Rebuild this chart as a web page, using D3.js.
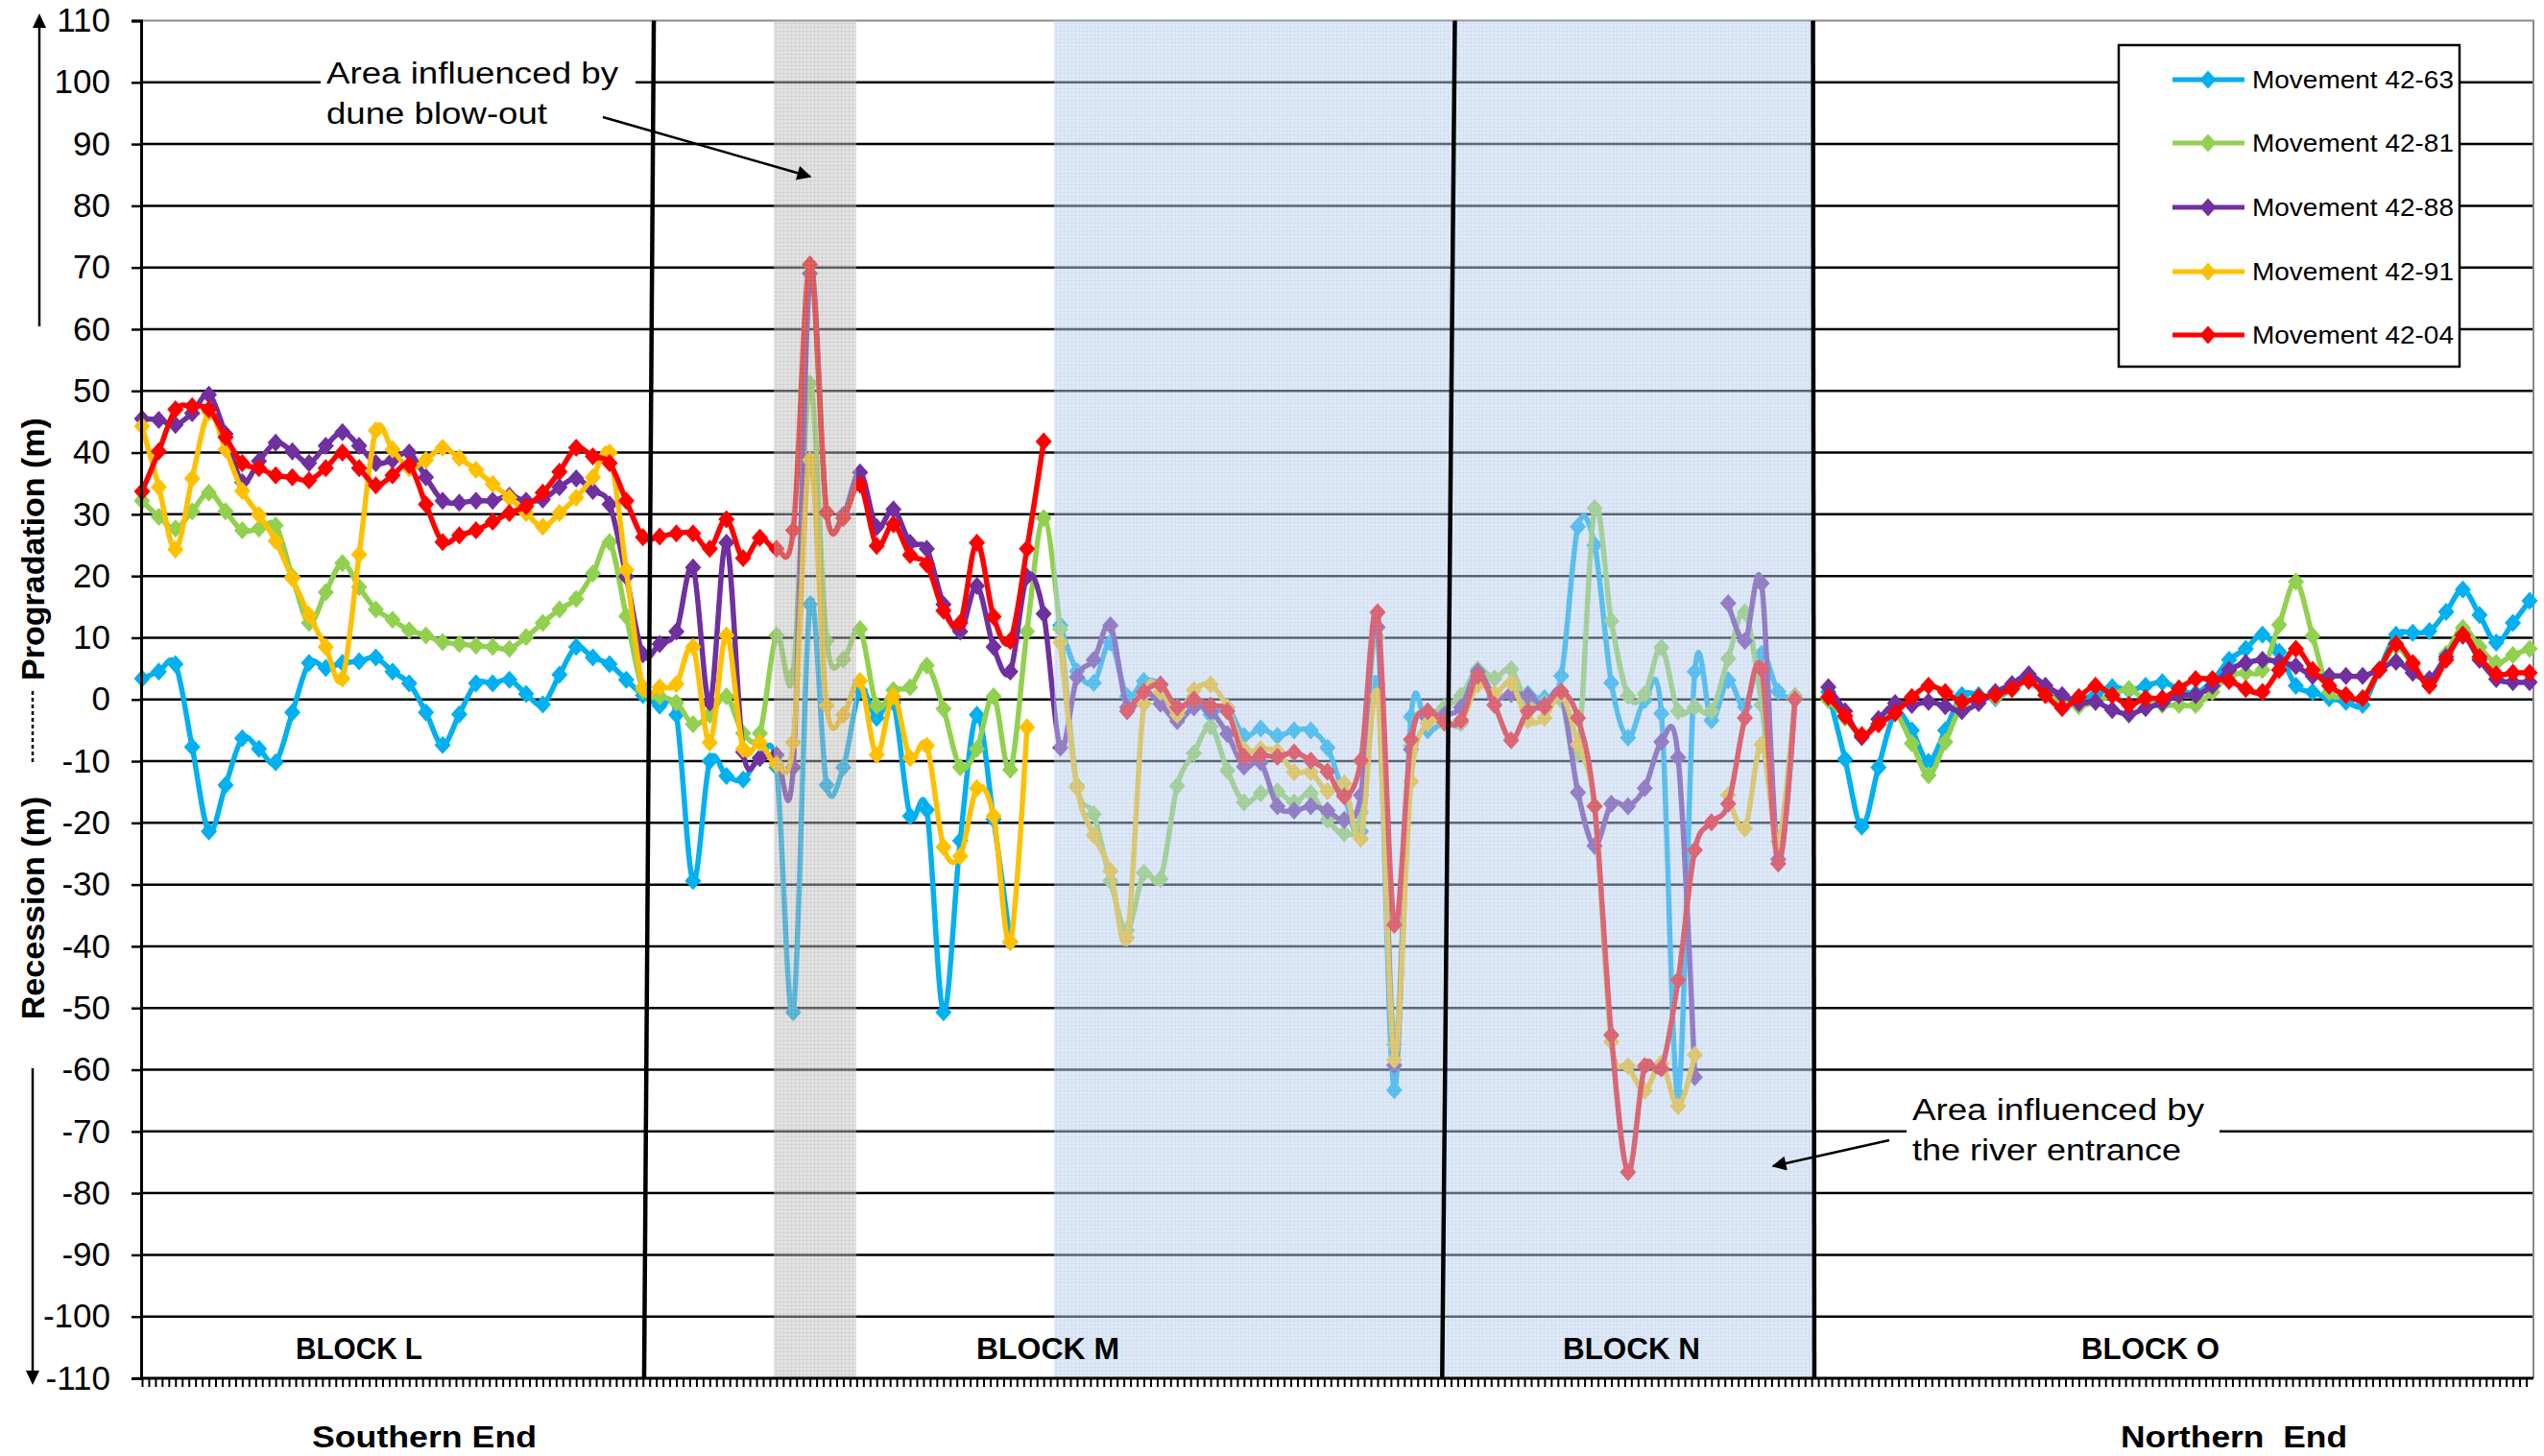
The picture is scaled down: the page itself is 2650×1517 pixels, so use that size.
<!DOCTYPE html>
<html>
<head>
<meta charset="utf-8">
<script src="https://cdn.jsdelivr.net/npm/d3@7"></script>
<style>
  body { margin: 0; background: #fff; }
  svg { display: block; }
  text { font-family: "Liberation Sans", Arial, sans-serif; fill: #000; }
</style>
</head>
<body>
<svg id="chart" width="2650" height="1517"></svg>
<script>
// Beach profile number along the coast, south (0) to north (143)
const profiles = d3.range(0, 144);

// Shoreline movement (m) per profile; null = no measurement
const mov4263 = [3.4,4.5,5.7,-7.7,-21.4,-13.9,-6.3,-8,-10.2,-2.1,5.9,5.1,5.9,6.2,6.8,4.5,2.6,-2.1,-7.4,-2.4,2.6,2.6,3.2,0.9,-0.8,4,8.5,6.8,5.7,3.2,
  0.7,-1,-2.5,-29.4,-10,-12.4,-13,-9.5,-11,-50.7,15.4,-13.9,-11,1.5,-3,-0.5,-18.9,-17.9,-50.7,-22.9,-2.5,-19.4,-39.3,null,null,
  12,4.6,2.7,9.2,0.5,3,2.4,-1.3,0,-2.5,-1.3,-5.9,-4.7,-5.9,-5,-5,-7.8,-15.5,-21.4,2.4,-63.3,-2.8,-5,-3.8,
  -3.8,4.1,0.6,0.9,0.9,0.2,3.8,28,25,2.7,-6.2,-0.1,-2.3,-64,4.5,-3.4,3.1,-1.2,7.4,1.3,0.2,null,
  1.2,-9.7,-20.6,-11,-2.2,-5,-10.1,-5,0.7,0.7,0.2,1.7,3.8,1.2,0.2,0.2,0.7,2,1.5,2.2,2.8,1.7,1,3,6.4,8.2,10.5,7.7,2.2,1.2,
  0.2,-0.4,-0.9,4.8,10.5,10.8,11.1,14.2,17.8,13.7,9.2,12.4,16];

const mov4281 = [32.2,29.6,27.7,30.5,33.5,30.5,27.4,27.7,28.2,19.9,12.4,17.4,22.1,18.2,14.6,12.9,11.2,10.4,9.3,9,8.7,8.5,8.2,10.1,12.4,14.6,16.3,20.4,25.5,13.5,
  1.5,0.5,-0.5,-4,-2.5,0.5,-5.5,-5.5,10.4,4,51.2,9.5,6.5,11.4,-1,1.5,2,5.5,-1.5,-11,-8,0.5,-11.4,11,29.4,
  11.4,-14,-18.6,-29.4,-37.4,-28.1,-29.1,-14,-8.7,-4.4,-11.5,-16.7,-15.2,-14.9,-16.7,-15.2,-19.5,-21.7,-18.3,10.1,-55.9,-7.5,-2.8,-1.3,
  0.6,4.9,3.4,4.9,-0.9,-0.5,-0.1,-8.7,31,12.7,0.6,0.9,8.4,-1.9,-1.2,-1.9,6.6,14.1,-0.9,-23,0.6,null,
  -0.1,-3,-5.8,-4,-2.2,-7.1,-12.3,-6.9,-0.9,0.2,0.4,1.7,3.3,1.2,-0.4,-1.1,-0.4,0.7,1.7,-0.1,-0.9,-0.9,-0.9,1.2,3.8,4.3,4.8,12.1,19.1,10.3,
  1.2,0.7,0.2,4.8,8.5,5.6,2.8,7.4,11.6,8.5,5.9,7.2,8.2];

const mov4288 = [45.5,45.3,44.5,46.4,49.4,43,35.2,38.6,41.6,40.2,38.3,41.1,43.3,41.1,38.3,38.8,40,36,32.2,31.9,32.2,32.2,33,32.2,32.4,34.4,35.8,33.8,31.6,19.9,
  7.3,9,11,21.4,-0.5,25.4,-8.5,-9.5,-9,-11,69,30.3,29.9,36.8,27.9,30.8,25.4,24.4,15.4,11,18.4,8.5,4.5,19.9,13.9,
  -7.8,3.6,6.4,12,-1.3,1.2,-0.7,-3.5,-1.3,-1.9,-5.6,-10.9,-10.2,-17.3,-18,-17.3,-18,-19.5,-15.5,11.7,-59.3,-8.1,-3.1,-2.5,
  -1.3,4.5,0.2,0.9,0.6,-0.9,0.9,-15.1,-23.7,-16.9,-17.3,-14.4,-6.9,-9.4,-61.2,null,15.6,9.5,18.8,-25.9,0.2,null,
  2,-1.9,-6.1,-3.2,-0.6,-0.9,-0.4,-1.1,-1.9,-0.6,1.2,2.5,4.1,2.2,0.7,-0.6,-0.4,-1.7,-2.4,-1.4,-0.6,0.7,0.7,2.2,4.8,5.9,6.4,6.1,5.4,3.8,
  3.8,3.8,3.8,4.8,6.1,4.3,3.3,6.9,10.3,6.4,3.3,2.8,2.8];

const mov4291 = [44.3,34.4,24.3,35.8,46.5,40.5,33.8,29.9,25.7,19.6,13.7,8.5,3.4,23.5,43.6,40.5,37.5,38.8,40.8,39.1,37.2,34.9,32.7,30.2,28,30.2,32.7,36,40,21,
  2,2,2.5,8.5,-7,10.4,-8,-7,-10.5,-7,38.8,-1,-2.5,3,-9,0.5,-9.5,-7.5,-23.9,-25.4,-14.4,-18.9,-39.3,-4.5,null,
  9.2,-14.3,-22,-27.8,-38.6,-0.7,1.2,-2.5,1.5,2.4,-1.3,-8.1,-8.1,-8.4,-11.8,-11.8,-14.9,-13.6,-22.6,0.6,-58.4,-13.3,-3.8,-3.8,
  -3.7,2.4,0.9,2.7,-3.4,-3,0.9,-7.3,-17.3,-55.5,-59.4,-63.4,-59,-65.9,-57.6,null,-15.5,-20.9,-7.3,-23,0.2,null,
  null,null,null,null,null,null,null,null,null,null,null,null,null,null,null,null,null,null,null,null,null,null,null,null,null,null,null,null,null,null,
  null,null,null,null,null,null,null,null,null,null,null,null,null];

const mov4204 = [33.7,40.2,47,47.5,47,42.5,38.3,37.5,36.3,36,35.5,37.5,40,37.5,34.7,36.3,38,31.6,25.5,26.6,27.4,28.8,30.2,31.3,33.5,36.9,40.8,39.4,38.3,32.2,
  26.3,26.4,26.9,26.9,24.4,29.2,22.9,26.2,24.4,27.4,70.5,30.3,29.4,34.8,24.9,28.4,23.4,21.9,14.4,12.4,25.4,13.4,9.5,24.4,41.8,
  null,null,null,null,-1.9,1.2,2.4,-1.3,0,-1,-1.9,-9.3,-9,-9.3,-8.6,-9.9,-11.7,-15.7,-9.9,14.1,-36.5,-6.5,-1.9,-3.7,
  -3.4,3.8,-0.9,-6.6,-1.9,-1.2,1.3,-3,-17.3,-54.4,-76.6,-59.4,-59.8,-45.5,-24.4,-19.9,-16.9,-3,4.9,-26.6,0,null,
  0.4,-2.7,-5.8,-4,-2.2,0.4,2.2,1.2,-0.4,0.4,0.7,1.7,3,0.7,-1.4,0.4,2.2,0.7,-0.9,0.2,0.2,1.8,3.3,3.3,3,1.7,1.2,4.8,8.2,4.8,
  2.2,0.7,0.2,4.8,9,5.9,2.2,6.4,10.5,6.9,4.1,4.3,4.3];

const seriesNames = ["Movement 42-63", "Movement 42-81", "Movement 42-88", "Movement 42-91", "Movement 42-04"];
const seriesColors = ["#00B0F0", "#92D050", "#7030A0", "#FFC000", "#FF0000"];
const seriesValues = [mov4263, mov4281, mov4288, mov4291, mov4204];

const yTicks = [-110,-100,-90,-80,-70,-60,-50,-40,-30,-20,-10,0,10,20,30,40,50,60,70,80,90,100,110];

const blockNames = ["BLOCK L", "BLOCK M", "BLOCK N", "BLOCK O"];
// block boundaries, in profile units (top end, bottom end of the drawn divider)
const blockDividers = [[30.65, 30.07], [78.63, 77.87], [100.08, 100.16]];
// shaded zones in profile units
const duneZone = [37.84, 42.78];
const riverZone = [54.63, 100.1];

const svg = d3.select("#chart");
const pL = 147, pR = 2639, pT = 21.5, pB = 1436;

const x = d3.scaleLinear().domain([0, 143]).range([148, 2635]);
const y = d3.scaleLinear().domain([-110, 110]).range([pB, pT]);

// ---- patterns for the shaded zones
const defs = svg.append("defs");
function gridPattern(id, base, stroke) {
  const p = defs.append("pattern").attr("id", id).attr("patternUnits", "userSpaceOnUse")
    .attr("width", 4).attr("height", 4);
  p.append("rect").attr("width", 4).attr("height", 4).attr("fill", base);
  p.append("path").attr("d", "M0,0.5H4M0.5,0V4").attr("stroke", stroke).attr("stroke-width", 1);
}
gridPattern("dunePat", "#c6c6c6", "#a8a8a8");
gridPattern("riverPat", "#bfd3ee", "#a9c3e7");

// ---- horizontal gridlines
svg.append("g").selectAll("line")
  .data(yTicks.filter(v => v > -110 && v < 110))
  .join("line")
  .attr("x1", pL).attr("x2", pR)
  .attr("y1", d => y(d)).attr("y2", d => y(d))
  .attr("stroke", "#000").attr("stroke-width", 2.5);

// plot border top/right
svg.append("path")
  .attr("d", `M${pL},${pT}H${pR}V${pB}`)
  .attr("fill", "none").attr("stroke", "#8a8a8a").attr("stroke-width", 2);

// ---- series
const lineGen = d3.line()
  .defined(d => d != null)
  .x((d, i) => x(profiles[i]))
  .y(d => y(d))
  .curve(d3.curveCardinal.tension(0));

const diamond = "M0,-9.5L8.5,0L0,9.5L-8.5,0Z";

const gSeries = svg.append("g");
seriesValues.forEach((vals, k) => {
  const g = gSeries.append("g");
  g.append("path").datum(vals)
    .attr("d", lineGen)
    .attr("fill", "none")
    .attr("stroke", seriesColors[k])
    .attr("stroke-width", 5.5)
    .attr("stroke-linejoin", "round");
  g.selectAll("path.m")
    .data(vals.map((v, i) => ({ v, i })).filter(d => d.v != null))
    .join("path").attr("class", "m")
    .attr("d", diamond)
    .attr("transform", d => `translate(${x(profiles[d.i])},${y(d.v)})`)
    .attr("fill", seriesColors[k]);
});

// ---- shaded zones on top of the lines
svg.append("rect")
  .attr("x", x(duneZone[0])).attr("y", pT)
  .attr("width", x(duneZone[1]) - x(duneZone[0])).attr("height", pB - pT)
  .attr("fill", "url(#dunePat)").attr("opacity", 0.5);
svg.append("rect")
  .attr("x", x(riverZone[0])).attr("y", pT)
  .attr("width", x(riverZone[1]) - x(riverZone[0])).attr("height", pB - pT)
  .attr("fill", "url(#riverPat)").attr("opacity", 0.5);

// ---- block dividers
svg.append("g").selectAll("line")
  .data(blockDividers)
  .join("line")
  .attr("x1", d => x(d[0])).attr("y1", pT)
  .attr("x2", d => x(d[1])).attr("y2", pB)
  .attr("stroke", "#000").attr("stroke-width", 4.5);

// ---- y axis
const yAxis = d3.axisLeft(y).tickValues(yTicks).tickSize(10).tickPadding(22)
  .tickFormat(d => String(d));
const gy = svg.append("g").attr("transform", `translate(${pL},0)`).call(yAxis);
gy.select(".domain").attr("stroke", "#000").attr("stroke-width", 3);
gy.selectAll(".tick line").attr("stroke", "#000").attr("stroke-width", 2.5);
gy.selectAll(".tick text")
  .attr("font-size", 35).attr("font-family", "Liberation Sans, Arial, sans-serif").attr("fill", "#000");

// ---- x axis (category ticks)
const xTickVals = d3.range(0, 143.01, 0.4);
const xAxis = d3.axisBottom(x).tickValues(xTickVals).tickSize(9).tickFormat("");
const gx = svg.append("g").attr("transform", `translate(0,${pB})`).call(xAxis);
gx.select(".domain").attr("stroke", "#000").attr("stroke-width", 3).attr("d", `M${pL},0H${pR}`);
gx.selectAll(".tick line").attr("stroke", "#000").attr("stroke-width", 2);

// ---- block labels
const blockLabelPos = [[308, 132], [1017, 149], [1628, 143], [2168, 144]];
svg.append("g").selectAll("text")
  .data(blockNames)
  .join("text")
  .attr("x", (d, i) => blockLabelPos[i][0]).attr("y", 1416)
  .attr("textLength", (d, i) => blockLabelPos[i][1]).attr("lengthAdjust", "spacingAndGlyphs")
  .attr("font-family", "Lato, sans-serif").attr("font-weight", 700).attr("font-size", 32)
  .text(d => d);

// ---- end labels
svg.append("text").attr("x", 325).attr("y", 1508).attr("font-weight", 700).attr("font-size", 32)
  .attr("textLength", 234).attr("lengthAdjust", "spacingAndGlyphs").text("Southern End");
svg.append("text").attr("x", 2209).attr("y", 1508).attr("font-weight", 700).attr("font-size", 32)
  .attr("textLength", 236).attr("lengthAdjust", "spacingAndGlyphs").text("Northern  End")
  .style("white-space", "pre");

// ---- y axis title with arrows
const gt = svg.append("g");
gt.append("text").attr("transform", "translate(46,572) rotate(-90)")
  .attr("text-anchor", "middle").attr("font-weight", 700).attr("font-size", 34).text("Progradation (m)");
gt.append("text").attr("transform", "translate(46,946) rotate(-90)")
  .attr("text-anchor", "middle").attr("font-weight", 700).attr("font-size", 34).text("Recession (m)");
gt.append("line").attr("x1", 34).attr("x2", 34).attr("y1", 720).attr("y2", 796)
  .attr("stroke", "#000").attr("stroke-width", 2.5).attr("stroke-dasharray", "4,3");
gt.append("line").attr("x1", 41).attr("x2", 41).attr("y1", 340).attr("y2", 26)
  .attr("stroke", "#000").attr("stroke-width", 2.5);
gt.append("path").attr("d", "M41,14L34,29L48,29Z").attr("fill", "#000");
gt.append("line").attr("x1", 34).attr("x2", 34).attr("y1", 1113).attr("y2", 1430)
  .attr("stroke", "#000").attr("stroke-width", 2.5);
gt.append("path").attr("d", "M34,1443L27,1428L41,1428Z").attr("fill", "#000");

// ---- annotations
function note(x0, y0, lines, widths, boxW) {
  const g = svg.append("g");
  g.append("rect").attr("x", x0 - 6).attr("y", y0 - 30).attr("width", boxW).attr("height", 80).attr("fill", "#fff");
  lines.forEach((t, i) => {
    g.append("text").attr("x", x0).attr("y", y0 + i * 41.6)
      .attr("font-size", 31).attr("textLength", widths[i]).attr("lengthAdjust", "spacingAndGlyphs").text(t);
  });
  return g;
}
note(340, 87, ["Area influenced by", "dune blow-out"], [304, 230], 328);
note(1992, 1167, ["Area influenced by", "the river entrance"], [304, 280], 326);

defs.append("marker").attr("id", "arrowHead").attr("viewBox", "0 0 10 10")
  .attr("refX", 9).attr("refY", 5).attr("markerWidth", 8).attr("markerHeight", 6)
  .attr("markerUnits", "strokeWidth").attr("orient", "auto")
  .append("path").attr("d", "M0,0L10,5L0,10Z").attr("fill", "#000");
svg.append("line").attr("x1", 628).attr("y1", 122).attr("x2", 844).attr("y2", 184)
  .attr("stroke", "#000").attr("stroke-width", 2.5).attr("marker-end", "url(#arrowHead)");
svg.append("line").attr("x1", 1968).attr("y1", 1188).attr("x2", 1847).attr("y2", 1215)
  .attr("stroke", "#000").attr("stroke-width", 2.5).attr("marker-end", "url(#arrowHead)");

// ---- legend
const lg = svg.append("g");
lg.append("rect").attr("x", 2207).attr("y", 47).attr("width", 355).attr("height", 335)
  .attr("fill", "#fff").attr("stroke", "#000").attr("stroke-width", 2.5);
const legendRows = [83, 149, 216, 283, 349];
seriesNames.forEach((name, k) => {
  const ly = legendRows[k];
  lg.append("line").attr("x1", 2263).attr("x2", 2338).attr("y1", ly).attr("y2", ly)
    .attr("stroke", seriesColors[k]).attr("stroke-width", 5);
  lg.append("path").attr("d", diamond).attr("transform", `translate(2300,${ly})`).attr("fill", seriesColors[k]);
  lg.append("text").attr("x", 2346).attr("y", ly + 9).attr("font-size", 26)
    .attr("textLength", 210).attr("lengthAdjust", "spacingAndGlyphs").text(name);
});
</script>
</body>
</html>
